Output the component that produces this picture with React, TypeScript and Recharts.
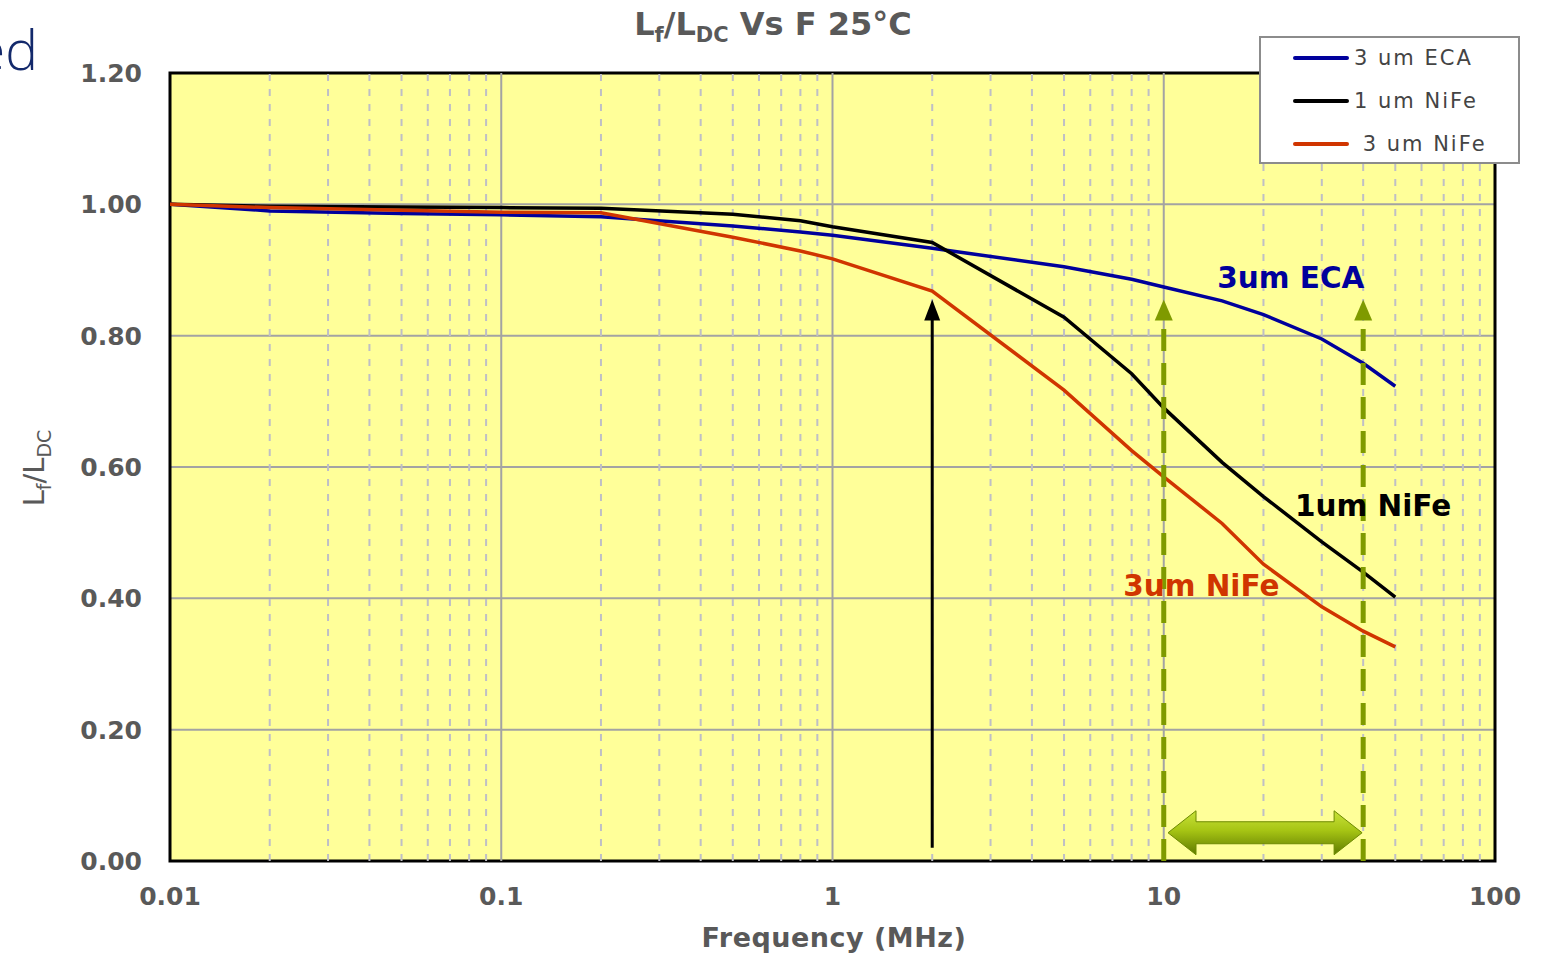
import React from 'react';
import {
  ComposedChart,
  Line,
  XAxis,
  YAxis,
  CartesianGrid,
  ReferenceLine,
  ReferenceArea,
  ReferenceDot,
  Legend,
} from 'recharts';

// ---------- data ----------
const freqMHz = [0.01, 0.02, 0.05, 0.1, 0.2, 0.5, 0.8, 1, 2, 5, 8, 10, 15, 20, 30, 40, 50];
const eca3um = [1.0, 0.99, 0.986, 0.984, 0.981, 0.967, 0.958, 0.953, 0.933, 0.905, 0.886, 0.874, 0.853, 0.832, 0.795, 0.758, 0.723];
const nife1um = [1.0, 0.997, 0.996, 0.995, 0.994, 0.985, 0.975, 0.966, 0.942, 0.828, 0.742, 0.69, 0.607, 0.555, 0.486, 0.44, 0.402];
const nife3um = [1.0, 0.995, 0.991, 0.988, 0.987, 0.95, 0.929, 0.917, 0.868, 0.717, 0.625, 0.585, 0.514, 0.452, 0.387, 0.35, 0.326];

const xTicks = [0.01, 0.1, 1, 10, 100];
const yTicks = [0, 0.2, 0.4, 0.6, 0.8, 1.0, 1.2];
const decades = [0.01, 0.1, 1, 10];
const minorMultipliers = [2, 3, 4, 5, 6, 7, 8, 9];
const majorVertical = [0.1, 1, 10];

const seriesNames = ['3 um ECA', '1 um NiFe', ' 3 um NiFe'];
const curveLabels = ['3um ECA', '1um NiFe', '3um NiFe'];
const curveLabelPos = [
  { f: 14.5, v: 0.888 },
  { f: 24.9, v: 0.541 },
  { f: 7.54, v: 0.419 },
];

// annotation arrows (data coordinates)
const blackArrow = { f: 2, from: 0.02, to: 0.855 };
const greenArrowFreqs = [10, 40];
const greenArrowRange = { from: 0, to: 0.855 };
const bandArrow = { fFrom: 10.3, fTo: 39.7, v: 0.043 };

// ---------- styles ----------
const BLUE = '#00009c';
const BLACK = '#000000';
const RED = '#d03500';
const seriesColors = [BLUE, BLACK, RED];
const GREEN = '#7f9a00';
const TEXT_GRAY = '#595959';
const FONT = 'DejaVu Sans, Liberation Sans, Arial, sans-serif';

const toRows = (vals: number[]) => freqMHz.map((f, i) => ({ f, v: vals[i] }));
const seriesData = [toRows(eca3um), toRows(nife1um), toRows(nife3um)];
const minorGrid = decades.flatMap((d) => minorMultipliers.map((m) => +(m * d).toPrecision(3)));

const VArrow = (color: string, dash?: string) => (p: any) => {
  const { x1, y1, x2, y2 } = p;
  const bottom = Math.max(y1, y2);
  const top = Math.min(y1, y2);
  return (
    <g>
      <line x1={x1} y1={bottom} x2={x2} y2={top + 16} stroke={color} strokeWidth={dash ? 5 : 3} strokeDasharray={dash} />
      <polygon
        points={`${x2},${top} ${x2 - (dash ? 9 : 8)},${top + 21} ${x2 + (dash ? 9 : 8)},${top + 21}`}
        fill={color}
      />
    </g>
  );
};

const DoubleArrow = (p: any) => {
  const { x1, x2, y1 } = p;
  const y = y1;
  const h = 28;
  const L = Math.min(x1, x2);
  const R = Math.max(x1, x2);
  const pts = [
    [L, y],
    [L + h, y - 22],
    [L + h, y - 11],
    [R - h, y - 11],
    [R - h, y - 22],
    [R, y],
    [R - h, y + 22],
    [R - h, y + 11],
    [L + h, y + 11],
    [L + h, y + 22],
  ]
    .map((q) => q.join(','))
    .join(' ');
  return (
    <g>
      <defs>
        <linearGradient id="bandGrad" x1="0" y1="0" x2="0" y2="1">
          <stop offset="0%" stopColor="#c9e23a" />
          <stop offset="45%" stopColor="#a6c414" />
          <stop offset="100%" stopColor="#5f7a00" />
        </linearGradient>
      </defs>
      <polygon points={pts} fill="url(#bandGrad)" stroke="#6d8a00" strokeWidth={1} />
    </g>
  );
};

const LegendBox = () => (
  <div
    style={{
      boxSizing: 'border-box',
      width: 261,
      height: 128,
      background: '#ffffff',
      border: '2px solid #8c8c8c',
      position: 'relative',
      fontFamily: FONT,
    }}
  >
    {seriesNames.map((name, i) => (
      <div
        key={name}
        style={{ position: 'absolute', left: 0, top: 7 + i * 43, height: 26, width: '100%' }}
      >
        <div
          style={{
            position: 'absolute',
            left: 32,
            top: 11,
            width: 56,
            height: 4,
            borderRadius: 2,
            background: seriesColors[i],
          }}
        />
        <div
          style={{
            position: 'absolute',
            left: 93,
            top: 0,
            lineHeight: '26px',
            fontSize: 21,
            letterSpacing: 2,
            color: '#444',
            whiteSpace: 'pre',
          }}
        >
          {name}
        </div>
      </div>
    ))}
  </div>
);

export default function App() {
  return (
    <div style={{ position: 'absolute', left: 0, top: 0, width: 1554, height: 956, background: '#fff', overflow: 'hidden' }}>
      <div
        style={{
          position: 'absolute',
          right: 1516,
          top: 21,
          fontSize: 55,
          lineHeight: '55px',
          fontFamily: 'Open Sans, sans-serif',
          fontWeight: 300,
          color: '#13296b',
          whiteSpace: 'nowrap',
        }}
      >
        ed
      </div>
      <div
        style={{
          position: 'absolute',
          left: 0,
          top: 4,
          width: 1546,
          textAlign: 'center',
          fontFamily: FONT,
          fontWeight: 'bold',
          fontSize: 32,
          lineHeight: '40px',
          color: TEXT_GRAY,
          whiteSpace: 'nowrap',
        }}
      >
        L<sub style={{ fontSize: 21, lineHeight: 0 }}>f</sub>/L<sub style={{ fontSize: 21, lineHeight: 0 }}>DC</sub> Vs F 25°C
      </div>
      <ComposedChart width={1554} height={956} margin={{ top: 73, right: 59, bottom: 35, left: 0 }}>
        <CartesianGrid
          vertical={false}
          horizontal
          fill="#ffff99"
          fillOpacity={1}
          stroke="#a3a3a3"
          strokeWidth={2}
        />
        {minorGrid.map((x) => (
          <ReferenceLine key={'m' + x} x={x} stroke="#bfbfc6" strokeWidth={2} strokeDasharray="7 8" />
        ))}
        {majorVertical.map((x) => (
          <ReferenceLine key={'M' + x} x={x} stroke="#a3a3a3" strokeWidth={2} />
        ))}
        <XAxis
          dataKey="f"
          type="number"
          scale="log"
          domain={[0.01, 100]}
          ticks={xTicks}
          allowDataOverflow
          axisLine={false}
          tickLine={false}
          tickSize={0}
          tickMargin={26}
          height={60}
          tickFormatter={(v: number) => String(v)}
          tick={{ fill: TEXT_GRAY, fontSize: 25, fontWeight: 'bold', fontFamily: FONT }}
          label={{
            content: () => (
              <text
                x={834}
                y={947}
                textAnchor="middle"
                fill={TEXT_GRAY}
                fontSize={27}
                letterSpacing={0.5}
                fontWeight="bold"
                fontFamily={FONT}
              >
                Frequency (MHz)
              </text>
            ),
          }}
        />
        <YAxis
          type="number"
          domain={[0, 1.2]}
          ticks={yTicks}
          width={170}
          axisLine={false}
          tickLine={false}
          tickSize={0}
          tickMargin={28}
          tickFormatter={(v: number) => v.toFixed(2)}
          tick={{ fill: TEXT_GRAY, fontSize: 25, fontWeight: 'bold', fontFamily: FONT }}
          label={{
            content: () => (
              <text
                x={44}
                y={468}
                transform="rotate(-90 44 468)"
                textAnchor="middle"
                fill={TEXT_GRAY}
                fontSize={29}
                fontFamily={FONT}
              >
                L<tspan dy={7} fontSize={19}>f</tspan>
                <tspan dy={-7}>/L</tspan>
                <tspan dy={7} fontSize={19}>DC</tspan>
              </text>
            ),
          }}
        />
        {seriesData.map((d, i) => (
          <Line
            key={seriesNames[i]}
            data={d}
            dataKey="v"
            name={seriesNames[i]}
            type="linear"
            stroke={seriesColors[i]}
            strokeWidth={3.5}
            dot={false}
            activeDot={false}
            isAnimationActive={false}
          />
        ))}
        <ReferenceLine
          segment={[
            { x: blackArrow.f, y: blackArrow.from },
            { x: blackArrow.f, y: blackArrow.to },
          ]}
          shape={VArrow(BLACK)}
        />
        {greenArrowFreqs.map((f) => (
          <ReferenceLine
            key={'g' + f}
            segment={[
              { x: f, y: greenArrowRange.from },
              { x: f, y: greenArrowRange.to },
            ]}
            shape={VArrow(GREEN, '22 12')}
          />
        ))}
        <ReferenceLine
          segment={[
            { x: bandArrow.fFrom, y: bandArrow.v },
            { x: bandArrow.fTo, y: bandArrow.v },
          ]}
          shape={DoubleArrow}
        />
        {curveLabels.map((t, i) => (
          <ReferenceDot
            key={t}
            x={curveLabelPos[i].f}
            y={curveLabelPos[i].v}
            r={0}
            shape={(p: any) => (
              <text
                x={p.cx}
                y={p.cy}
                dominantBaseline="central"
                fill={seriesColors[i]}
                fontSize={29.5}
                fontWeight="bold"
                fontFamily={FONT}
              >
                {t}
              </text>
            )}
          />
        ))}
        <ReferenceArea x1={0.01} x2={100} y1={0} y2={1.2} fill="none" stroke="#000" strokeWidth={3} ifOverflow="visible" />
        <Legend
          layout="vertical"
          align="center"
          verticalAlign="middle"
          wrapperStyle={{ left: 1259, top: 36, width: 261, height: 128 }}
          content={() => <LegendBox />}
        />
      </ComposedChart>
    </div>
  );
}
